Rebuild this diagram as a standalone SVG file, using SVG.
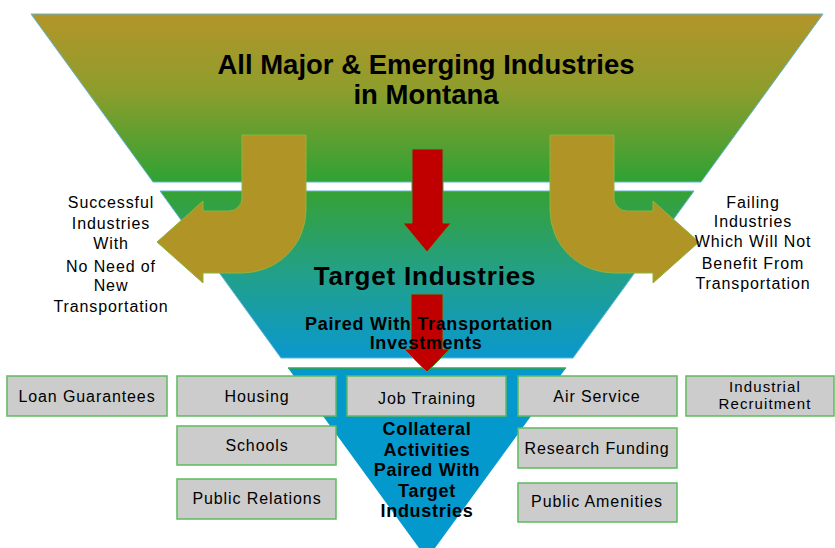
<svg xmlns="http://www.w3.org/2000/svg" width="835" height="548" viewBox="0 0 835 548">
  <defs>
    <linearGradient id="gradTop" x1="0" y1="14" x2="0" y2="182" gradientUnits="userSpaceOnUse">
      <stop offset="0" stop-color="#B3952A"/>
      <stop offset="0.45" stop-color="#8E9D2C"/>
      <stop offset="1" stop-color="#2FA234"/>
    </linearGradient>
    <linearGradient id="gradMid" x1="0" y1="191" x2="0" y2="358" gradientUnits="userSpaceOnUse">
      <stop offset="0" stop-color="#36A134"/>
      <stop offset="0.5" stop-color="#22A08A"/>
      <stop offset="1" stop-color="#0A98CE"/>
    </linearGradient>
    <style>
      .band { stroke: #5FB5D5; stroke-width: 1; }
      .bend { fill: #B09526; stroke: #8CB43C; stroke-width: 1; }
      .down { fill: #C00000; stroke: #3C9E3C; stroke-width: 1; }
      .box rect { fill: #CCCCCC; stroke: #5DBB5D; stroke-width: 1.5; }
      text { font-family: "Liberation Sans", Arial, sans-serif; fill: #000; text-anchor: middle; }
      .lbl { font-size: 16px; letter-spacing: 0.9px; }
      .tight { font-size: 15px; letter-spacing: 1.1px; }
      .hd { font-weight: bold; }
    </style>
  </defs>

  <rect width="835" height="548" fill="#FFFFFF"/>

  <!-- funnel stages -->
  <g id="stage-all">
    <polygon class="band" points="31,14 823,14 701,182 153,182" fill="url(#gradTop)"/>
    <text class="hd" x="426" y="74" font-size="27.5">All Major &amp; Emerging Industries</text>
    <text class="hd" x="426" y="104" font-size="27.5">in Montana</text>
  </g>

  <g id="stage-target">
    <polygon class="band" points="160,191 694,191 573,358 281,358" fill="url(#gradMid)"/>
  </g>

  <g id="stage-collateral">
    <polygon points="288,368 566,368 427,559" fill="#0399CC"/>
    <line x1="288" y1="368" x2="566" y2="368" stroke="#3FA93F" stroke-width="1.5"/>
  </g>

  <!-- connectors -->
  <g id="connectors">
    <path class="bend" d="M242 135 H306 V210 A64 63 0 0 1 242 273 H203 V283 L157 242 L203 201 V211 H229 A13 13 0 0 0 242 198 Z"/>
    <path class="bend" d="M614 135 H550 V210 A64 63 0 0 0 614 273 H653 V283 L699 242 L653 201 V211 H627 A13 13 0 0 1 614 198 Z"/>
    <path class="down" d="M412 149 H443 V223 H451 L427 252 L403 223 H412 Z"/>
    <path class="down" d="M411 294 H443 V349 H450 L427 372 L404 349 H411 Z"/>
  </g>

  <g id="target-label">
    <text class="hd" x="425" y="285" font-size="26" letter-spacing="0.8">Target Industries</text>
    <text class="hd" x="429" y="330" font-size="18" letter-spacing="0.7">Paired With Transportation</text>
    <text class="hd" x="426" y="349" font-size="18" letter-spacing="0.7">Investments</text>
  </g>

  <g id="collateral-label" class="hd" font-size="18" letter-spacing="0.7">
    <text x="427" y="435">Collateral</text>
    <text x="427" y="456">Activities</text>
    <text x="427" y="476">Paired With</text>
    <text x="427" y="497">Target</text>
    <text x="427" y="517">Industries</text>
  </g>

  <g id="successful" class="lbl">
    <text x="111" y="208">Successful</text>
    <text x="111" y="229">Industries</text>
    <text x="111" y="249">With</text>
    <text x="111" y="272">No Need of</text>
    <text x="111" y="291">New</text>
    <text x="111" y="312">Transportation</text>
  </g>

  <g id="failing" class="lbl">
    <text x="753" y="208">Failing</text>
    <text x="753" y="227">Industries</text>
    <text x="753" y="247">Which Will Not</text>
    <text x="753" y="269">Benefit From</text>
    <text x="753" y="289">Transportation</text>
  </g>

  <!-- collateral activities -->
  <g id="loan-guarantees" class="box">
    <rect x="7" y="376" width="160" height="40"/>
    <text class="lbl" x="87" y="402">Loan Guarantees</text>
  </g>
  <g id="housing" class="box">
    <rect x="177" y="376" width="159" height="40"/>
    <text class="lbl" x="257" y="402">Housing</text>
  </g>
  <g id="job-training" class="box">
    <rect x="347" y="376" width="159" height="40"/>
    <text class="lbl" x="427" y="404">Job Training</text>
  </g>
  <g id="air-service" class="box">
    <rect x="518" y="376" width="159" height="40"/>
    <text class="lbl" x="597" y="402">Air Service</text>
  </g>
  <g id="industrial-recruitment" class="box">
    <rect x="686" y="376" width="148" height="40"/>
    <text class="tight" x="765" y="392">Industrial</text>
    <text class="tight" x="765" y="409">Recruitment</text>
  </g>
  <g id="schools" class="box">
    <rect x="177" y="426" width="159" height="39"/>
    <text class="lbl" x="257" y="451">Schools</text>
  </g>
  <g id="research-funding" class="box">
    <rect x="518" y="428" width="159" height="40"/>
    <text class="lbl" x="597" y="454">Research Funding</text>
  </g>
  <g id="public-relations" class="box">
    <rect x="177" y="479" width="159" height="40"/>
    <text class="lbl" x="257" y="504">Public Relations</text>
  </g>
  <g id="public-amenities" class="box">
    <rect x="518" y="483" width="159" height="39"/>
    <text class="lbl" x="597" y="507">Public Amenities</text>
  </g>
</svg>
